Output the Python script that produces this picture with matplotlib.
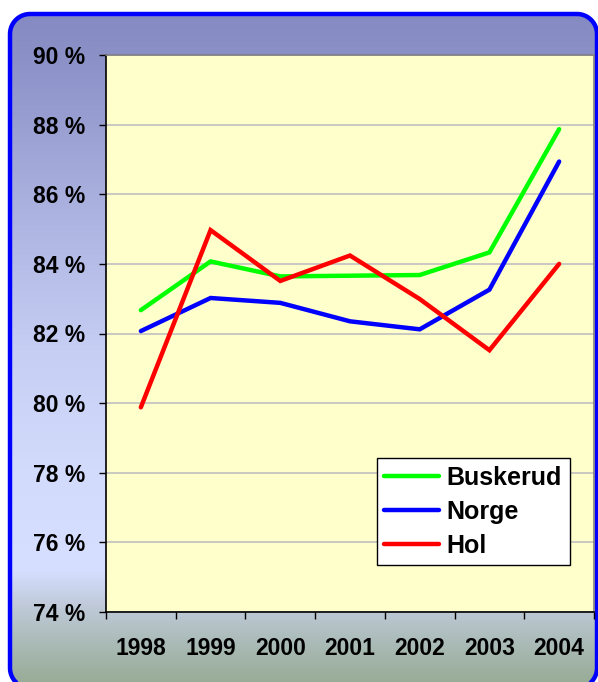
import numpy as np
import matplotlib
matplotlib.use("Agg")
import matplotlib.pyplot as plt
from matplotlib.patches import Polygon
from matplotlib.ticker import FixedLocator, FuncFormatter

# ==========================================================
# DATA
# ==========================================================

years = ["1998", "1999", "2000", "2001", "2002", "2003", "2004"]

buskerud = [82.67, 84.07, 83.64, 83.66, 83.68, 84.33, 87.87]
norge = [82.07, 83.02, 82.88, 82.35, 82.12, 83.26, 86.94]
hol = [79.88, 84.97, 83.51, 84.24, 82.99, 81.52, 84.00]

y_ticks = [74, 76, 78, 80, 82, 84, 86, 88, 90]

series_names = ["Buskerud", "Norge", "Hol"]
series_colors = ["#00FF00", "#0000FF", "#FF0000"]


# ==========================================================
# HELPERS
# ==========================================================

def rounded_rect(x0, y0, x1, y1, r, n=24):
    """
    Outline of a rounded rectangle in pixel coordinates (y down).
    """
    pts = []
    corners = [(x1 - r, y0 + r, -90, 0),
               (x1 - r, y1 - r, 0, 90),
               (x0 + r, y1 - r, 90, 180),
               (x0 + r, y0 + r, 180, 270)]
    for cx, cy, a0, a1 in corners:
        t = np.radians(np.linspace(a0, a1, n))
        pts.extend(zip(cx + r * np.cos(t), cy + r * np.sin(t)))
    return np.array(pts)


# ==========================================================
# FIGURE
# ==========================================================

plt.rcParams["font.family"] = ["Liberation Sans", "DejaVu Sans"]
plt.rcParams["font.weight"] = "bold"

W, H = 598, 682
fig = plt.figure(figsize=(W / 100, H / 100), dpi=100)
fig.patch.set_facecolor("white")

# ------------------------------------------------------
# Background panel (rounded, gradient)
# ------------------------------------------------------

bg = fig.add_axes([0, 0, 1, 1])
bg.axis("off")

px0, py0, px1, py1 = 10, 14, 597, 688
outline = rounded_rect(px0, py0, px1, py1, 20)

stops_y = [14, 60, 200, 350, 470, 570, 605, 640, 688]
stops_c = [(134, 138, 194), (140, 145, 200), (170, 176, 222), (198, 206, 244),
           (211, 219, 252), (214, 223, 255), (192, 202, 218), (172, 188, 186),
           (150, 170, 146)]
rows = np.arange(py0, py1 + 1)
grad = np.zeros((len(rows), 1, 3))
for k in range(3):
    grad[:, 0, k] = np.interp(rows, stops_y, [c[k] for c in stops_c]) / 255.0
img = bg.imshow(grad, extent=[px0, px1, py1, py0], aspect="auto",
                interpolation="bilinear", zorder=1)

clip = Polygon(outline, closed=True, facecolor="none", edgecolor="none")
bg.add_patch(clip)
img.set_clip_path(clip)

border = Polygon(outline, closed=True, facecolor="none", edgecolor="#0000FF",
                 linewidth=3.2, zorder=3, clip_on=False)
bg.add_patch(border)

bg.set_xlim(0, W)
bg.set_ylim(H, 0)

# ------------------------------------------------------
# Plot area
# ------------------------------------------------------

left, right, top, bottom = 106, 594, 55, 612
ax = fig.add_axes([left / W, 1 - bottom / H, (right - left) / W, (bottom - top) / H])
ax.set_facecolor("#FFFFCC")

x = np.arange(len(years))
for name, vals, col in zip(series_names, [buskerud, norge, hol], series_colors):
    ax.plot(x, vals, color=col, linewidth=3.2, label=name,
            solid_capstyle="round", solid_joinstyle="miter", zorder=3)

ax.set_ylim(74, 90)
ax.set_xlim(-0.5, len(years) - 0.5)

ax.yaxis.set_major_locator(FixedLocator(y_ticks))
ax.yaxis.set_major_formatter(FuncFormatter(lambda v, p: f"{v:.0f} %"))
ax.grid(axis="y", color="#C0C0C0", linewidth=1.2, zorder=1)
ax.set_axisbelow(True)

ax.xaxis.set_major_locator(FixedLocator(np.arange(-0.5, len(years), 1.0)))
ax.xaxis.set_major_formatter(FuncFormatter(lambda v, p: ""))
ax.xaxis.set_minor_locator(FixedLocator(x))
ax.set_xticklabels(years, minor=True)

ax.tick_params(axis="y", direction="out", length=5, width=1, pad=10,
               labelsize=16.5, colors="black")
ax.tick_params(axis="x", which="major", direction="out", length=5, width=1)
ax.tick_params(axis="x", which="minor", length=0, pad=18, labelsize=16.5)
for lab in ax.get_yticklabels() + ax.get_xticklabels(minor=True):
    lab.set_fontweight("bold")

ax.spines["left"].set_color("black")
ax.spines["bottom"].set_color("black")
ax.spines["top"].set_color("#808080")
ax.spines["right"].set_color("#808080")
for s in ax.spines.values():
    s.set_linewidth(1.2)

leg = ax.legend(loc="lower left", bbox_to_anchor=(0.555, 0.084),
                borderaxespad=0, fancybox=False, framealpha=1,
                edgecolor="black", fontsize=18, handlelength=2.2,
                handletextpad=0.3, labelspacing=0.4, borderpad=0.3)
leg.get_frame().set_linewidth(1.0)
for t in leg.get_texts():
    t.set_fontweight("bold")

fig.savefig("out.png", dpi=100)
